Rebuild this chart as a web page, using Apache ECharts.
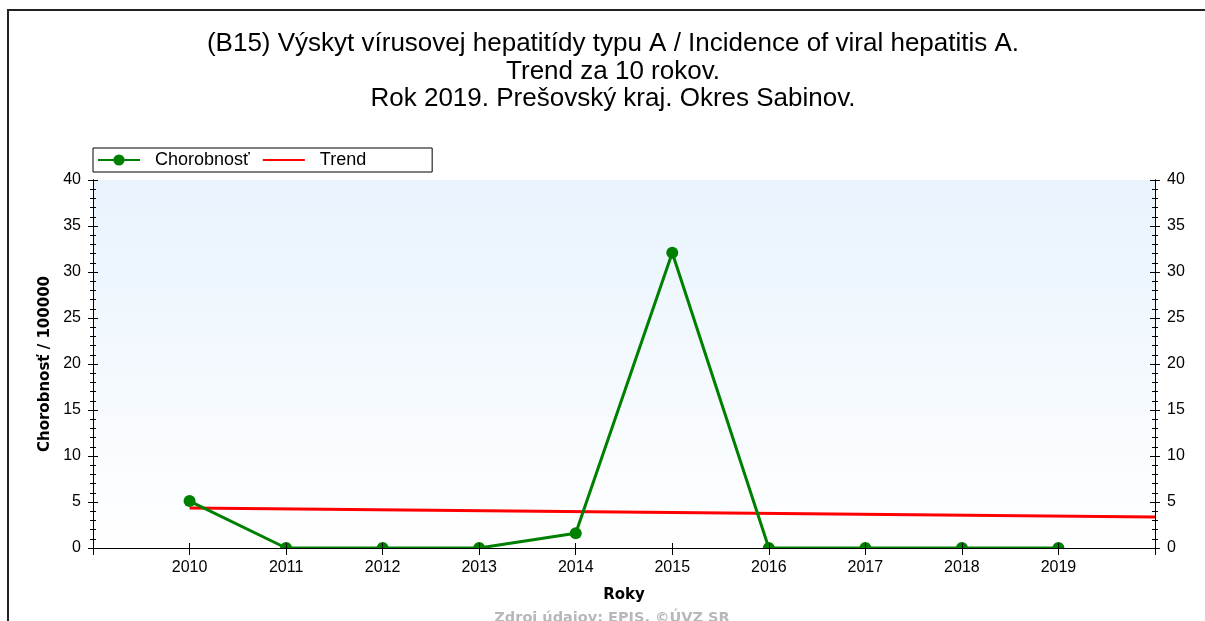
<!DOCTYPE html>
<html>
<head>
<meta charset="utf-8">
<script src="https://cdn.jsdelivr.net/npm/echarts@6/dist/echarts.min.js"></script>
<style>
  html, body { margin: 0; padding: 0; background: #fff; }
  #chart { width: 1205px; height: 621px; }
</style>
</head>
<body>
<div id="chart"></div>
<script>
// data
var years = [2010, 2011, 2012, 2013, 2014, 2015, 2016, 2017, 2018, 2019];
var incidence = [5.1, 0, 0, 0, 1.6, 32.1, 0, 0, 0, 0];
var trendYears = [2010, 2020];
var trendValues = [4.34, 3.36];
var titleLines = [
  '(B15) Výskyt vírusovej hepatitídy typu A / Incidence of viral hepatitis A.',
  'Trend za 10 rokov.',
  'Rok 2019. Prešovský kraj. Okres Sabinov.'
];

var myChart = echarts.init(document.getElementById('chart'));

var labelFont = 'Liberation Sans, Arial, sans-serif';

function yAxisPart(pos, inside, showLabel) {
  return {
    type: 'value', position: pos, min: 0, max: 40, interval: 5,
    z: 10,
    axisLine: { show: true, lineStyle: { color: '#000', width: 1 } },
    axisTick: { show: true, inside: inside, length: 5, lineStyle: { color: '#000' } },
    minorTick: { show: true, splitNumber: 5, length: 3, lineStyle: { color: '#000' } },
    splitLine: { show: false },
    axisLabel: { show: showLabel, margin: 12, color: '#000', fontSize: 16, fontFamily: labelFont }
  };
}

function xAxisPart(pos, inside, len, showLabel) {
  return {
    type: 'value', position: pos, min: 2009, max: 2020, interval: 1,
    z: 10,
    axisLine: { show: true, lineStyle: { color: '#000', width: 1 } },
    axisTick: { show: true, inside: inside, length: len, lineStyle: { color: '#000' } },
    splitLine: { show: false },
    axisLabel: {
      show: showLabel, margin: 12, color: '#000', fontSize: 16, fontFamily: labelFont,
      formatter: function (v) { return (v < 2010 || v > 2019) ? '' : String(v); }
    }
  };
}

var titleGraphics = titleLines.map(function (t, i) {
  return {
    type: 'text', x: 613, y: 44 + i * 27.5, z: 20,
    style: { text: t, align: 'center', verticalAlign: 'middle', fill: '#000',
             font: '26px Liberation Sans, Arial, sans-serif' }
  };
});

var option = {
  animation: false,
  grid: {
    left: 93, right: 50, top: 180, bottom: 73,
    show: true, borderWidth: 0,
    backgroundColor: new echarts.graphic.LinearGradient(0, 0, 0, 1, [
      { offset: 0, color: '#e8f3fd' },
      { offset: 1, color: '#ffffff' }
    ])
  },
  legend: {
    left: 93, top: 148, orient: 'horizontal',
    padding: [3, 66, 3, 4],
    itemWidth: 42, itemHeight: 14, itemGap: 12,
    backgroundColor: '#fff', borderColor: '#000', borderWidth: 1, borderRadius: 0,
    textStyle: { color: '#000', fontSize: 18, fontFamily: labelFont, padding: [0, 0, 0, 10] },
    data: [
      { name: 'Chorobnosť' },
      { name: 'Trend', itemStyle: { opacity: 0 } }
    ]
  },
  xAxis: [
    Object.assign(xAxisPart('bottom', false, 6, true), {
      name: 'Roky', nameLocation: 'middle', nameGap: 40,
      nameTextStyle: { fontWeight: 'bold', fontSize: 15, color: '#000', fontFamily: 'DejaVu Sans, sans-serif' }
    }),
    xAxisPart('bottom', true, 5, false),
    xAxisPart('top', true, 7, false)
  ],
  yAxis: [
    yAxisPart('left', false, true),
    yAxisPart('left', true, false),
    yAxisPart('right', false, true),
    yAxisPart('right', true, false)
  ],
  graphic: [
    { type: 'rect', shape: { x: 8, y: 10, width: 1300, height: 700 }, z: 0,
      style: { fill: 'none', stroke: '#222', lineWidth: 2 } },
    // hides the lower half of the markers sitting on the zero line
    { type: 'rect', shape: { x: 94, y: 549, width: 1060, height: 10 }, z: 5,
      style: { fill: '#fff' } },
    { type: 'text', x: 45, y: 364, rotation: Math.PI / 2, z: 20,
      style: { text: 'Chorobnosť / 100000', align: 'center', verticalAlign: 'middle',
               fill: '#000', font: 'bold 15px DejaVu Sans, sans-serif' } },
    { type: 'text', x: 612, y: 618, z: 20,
      style: { text: 'Zdroj údajov: EPIS, ©ÚVZ SR', align: 'center', verticalAlign: 'middle',
               fill: '#b8b8b8', font: 'bold 14.5px DejaVu Sans, sans-serif' } }
  ].concat(titleGraphics),
  series: [
    {
      name: 'Chorobnosť', type: 'line', xAxisIndex: 0, yAxisIndex: 0,
      data: years.map(function (y, i) { return [y, incidence[i]]; }),
      symbol: 'circle', symbolSize: 12, showAllSymbol: true, clip: false,
      lineStyle: { color: '#008000', width: 3 },
      itemStyle: { color: '#008000' },
      z: 3
    },
    {
      name: 'Trend', type: 'line', xAxisIndex: 0, yAxisIndex: 0,
      data: trendYears.map(function (y, i) { return [y, trendValues[i]]; }),
      symbol: 'none', showSymbol: false,
      lineStyle: { color: '#ff0000', width: 3 },
      itemStyle: { color: '#ff0000' },
      z: 2
    }
  ]
};

myChart.setOption(option);
</script>
</body>
</html>
